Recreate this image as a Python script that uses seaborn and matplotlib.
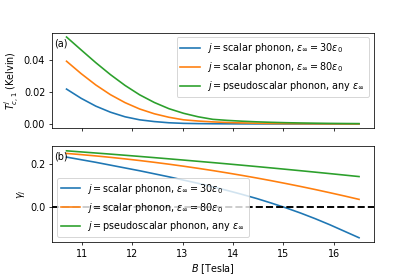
import numpy as np
import matplotlib
matplotlib.use('Agg')
import matplotlib.pyplot as plt
import seaborn as sns

# magnetic field (Tesla)
B = [10.70, 10.99, 11.28, 11.57, 11.86, 12.15, 12.44, 12.73, 13.02, 13.31, 13.60,
     13.89, 14.18, 14.47, 14.76, 15.05, 15.34, 15.63, 15.92, 16.21, 16.50]

# (a) critical temperature T_c,1 (Kelvin)
tc_scalar30 = [0.0219, 0.0161, 0.0112, 0.0074, 0.0045, 0.0026, 0.0015, 0.00075, 0.00037, 0.00022,
               0.00013, 0.00008, 0.00005, 0.00003, 0.00002, 0.00001, 0.00001, 0.0, 0.0, 0.0, 0.0]
tc_scalar80 = [0.0394, 0.0316, 0.0245, 0.0184, 0.0134, 0.0094, 0.0064, 0.0042, 0.0026, 0.00184,
               0.0013, 0.00092, 0.00065, 0.00046, 0.00032, 0.00023, 0.00016, 0.00011, 0.00008, 0.00006, 0.00004]
tc_pseudo = [0.0546, 0.0465, 0.0385, 0.0310, 0.0242, 0.0183, 0.0135, 0.0096, 0.0067, 0.0045,
             0.0029, 0.00224, 0.00173, 0.00133, 0.00103, 0.00079, 0.00061, 0.00047, 0.00036, 0.00028, 0.00022]

# (b) gamma_j
g_scalar30 = [0.231, 0.219, 0.207, 0.194, 0.181, 0.168, 0.154, 0.140, 0.125, 0.110, 0.094,
              0.077, 0.059, 0.040, 0.019, -0.003, -0.027, -0.053, -0.081, -0.111, -0.141]
g_scalar80 = [0.248, 0.2425, 0.2365, 0.2299, 0.2228, 0.2152, 0.2070, 0.1983, 0.1890, 0.1792, 0.1689,
              0.1580, 0.1466, 0.1347, 0.1222, 0.1091, 0.0956, 0.0815, 0.0668, 0.0517, 0.0360]
g_pseudo = [0.260, 0.2550, 0.2499, 0.2448, 0.2395, 0.2341, 0.2286, 0.2230, 0.2173, 0.2115, 0.2057,
            0.1997, 0.1936, 0.1874, 0.1811, 0.1747, 0.1682, 0.1616, 0.1549, 0.1481, 0.1412]

labels = [r'$j=$scalar phonon, $\varepsilon_\infty=30\varepsilon_0$',
          r'$j=$scalar phonon, $\varepsilon_\infty=80\varepsilon_0$',
          r'$j=$pseudoscalar phonon, any $\varepsilon_\infty$']
colors = ['#1f77b4', '#ff7f0e', '#2ca02c']

plt.style.use('default')
plt.rcParams['font.size'] = 10

fig, (ax1, ax2) = plt.subplots(2, 1, sharex=True, figsize=(6, 4.003))
plt.subplots_adjust(left=0.125, right=0.9, top=0.882, bottom=0.126, hspace=0.19)

for ys, lab, c in zip([tc_scalar30, tc_scalar80, tc_pseudo], labels, colors):
    sns.lineplot(x=B, y=ys, ax=ax1, label=lab, color=c, linewidth=1.7)
ax1.set_yticks([0.0, 0.02, 0.04])
ax1.set_ylabel(r'$T^j_{c,1}$ (Kelvin)', labelpad=2)
ax1.legend(loc='upper right')
ax1.text(0.008, 0.885, '(a)', transform=ax1.transAxes, va='center', ha='left')

for ys, lab, c in zip([g_scalar30, g_scalar80, g_pseudo], labels, colors):
    sns.lineplot(x=B, y=ys, ax=ax2, label=lab, color=c, linewidth=1.7)
ax2.axhline(0, color='k', ls='--', lw=2)
ax2.set_yticks([0.0, 0.2])
ax2.set_ylabel(r'$\gamma_j$', labelpad=2)
ax2.set_xlabel(r'$B$ [Tesla]')
ax2.legend(loc='lower left')
ax2.text(0.008, 0.9, '(b)', transform=ax2.transAxes, va='center', ha='left')

plt.savefig('out.png', dpi=69.2)
plt.close()
